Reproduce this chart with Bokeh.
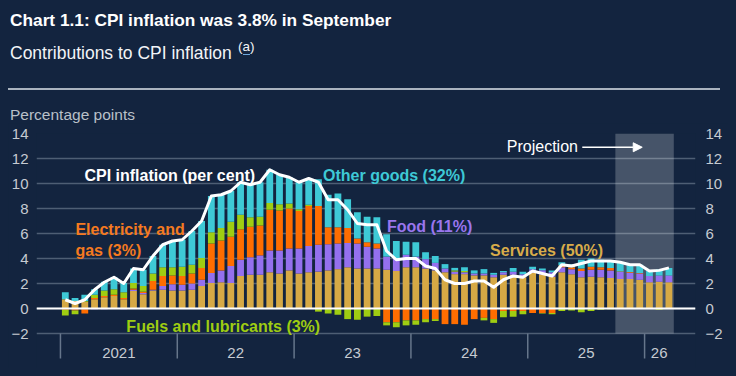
import numpy as np
from bokeh.plotting import figure
from bokeh.models import (Range1d, FixedTicker, LinearAxis, Label, BoxAnnotation,
                          Span, Arrow, NormalHead, Div)
from bokeh.layouts import column
from bokeh.embed import file_html
from bokeh.resources import INLINE
from bokeh.core.properties import value

# ---------------- data (percentage points), Jan 2021 .. Mar 2026 ----------------
months = [f"{m} {y}" for y in range(2021, 2027) for m in
          ["Jan", "Feb", "Mar", "Apr", "May", "Jun", "Jul", "Aug", "Sep", "Oct", "Nov", "Dec"]][:63]

services = [0.75, 0.6, 0.55, 0.75, 0.9, 1.0, 0.75, 1.4, 1.15, 1.45, 1.5, 1.45,
            1.45, 1.5, 1.8, 2.05, 2.1, 2.05, 2.6, 2.7, 2.7, 2.9, 2.8, 3.05,
            2.8, 2.9, 2.95, 3.05, 3.15, 3.3, 3.2, 3.2, 3.2, 3.1, 3.0, 3.3,
            3.3, 3.2, 3.05, 2.9, 2.75, 2.75, 2.65, 2.65, 2.5, 2.7, 2.7, 2.5,
            2.85, 2.72, 2.55, 2.9, 2.75, 2.5, 2.55, 2.5, 2.45, 2.37, 2.37, 2.3,
            2.1, 2.15, 2.1]
food = [0.0, -0.05, -0.05, -0.05, -0.05, 0.0, -0.05, 0.1, 0.1, 0.05, 0.3, 0.5,
        0.45, 0.5, 0.5, 0.8, 0.95, 1.35, 1.3, 1.4, 1.55, 1.75, 1.85, 1.75,
        2.0, 2.1, 2.15, 2.1, 2.05, 1.95, 2.0, 1.75, 1.6, 1.05, 1.0, 1.0,
        0.85, 0.75, 0.6, 0.3, 0.2, 0.15, 0.15, 0.15, 0.2, 0.2, 0.25, 0.25,
        0.3, 0.35, 0.35, 0.4, 0.4, 0.5, 0.55, 0.6, 0.6, 0.55, 0.5, 0.5,
        0.5, 0.5, 0.55]
electricity_gas = [-0.1, -0.1, -0.35, 0.1, 0.1, 0.1, 0.1, 0.1, 0.1, 0.7, 0.8, 0.7,
                   0.7, 0.8, 0.95, 2.35, 2.4, 2.35, 2.45, 2.45, 2.4, 3.25, 3.2, 3.2,
                   3.0, 3.2, 3.1, 1.35, 1.3, 1.2, 0.4, 0.35, 0.4, -1.1, -1.1, -0.95,
                   -0.95, -0.85, -0.85, -1.25, -1.25, -1.3, -0.85, -0.75, -0.85, -0.2, -0.2, -0.2,
                   -0.35, -0.35, -0.35, 0.15, 0.15, 0.2, 0.25, 0.2, 0.2, 0.05, 0.05, 0.05,
                   0.0, 0.0, 0.0]
fuels = [-0.45, -0.3, 0.05, 0.25, 0.45, 0.45, 0.45, 0.45, 0.45, 0.6, 0.7, 0.65,
         0.75, 0.7, 0.8, 0.9, 1.0, 1.2, 1.15, 0.75, 0.7, 0.55, 0.5, 0.4,
         0.15, 0.1, -0.25, -0.4, -0.5, -0.85, -0.9, -0.65, -0.6, -0.25, -0.4, -0.4,
         -0.35, -0.25, -0.15, 0.0, 0.1, 0.1, 0.0, -0.2, -0.3, -0.5, -0.45, -0.25,
         0.0, -0.05, -0.1, -0.2, -0.15, -0.3, -0.2, -0.1, -0.05, 0.0, 0.0, 0.0,
         0.0, -0.1, 0.0]
other_goods = [0.55, 0.25, 0.5, 0.45, 0.7, 0.95, 0.75, 1.15, 1.3, 1.4, 1.8, 2.1,
               2.15, 2.7, 2.95, 2.9, 2.65, 2.45, 2.6, 2.6, 2.75, 2.65, 2.35, 2.1,
               2.15, 2.1, 2.15, 2.6, 2.7, 2.3, 2.1, 2.05, 2.1, 1.8, 1.4, 1.05,
               1.15, 0.55, 0.55, 0.35, 0.2, 0.3, 0.25, 0.35, 0.15, 0.1, 0.3, 0.2,
               0.2, 0.13, 0.15, 0.25, 0.25, 0.7, 0.65, 0.6, 0.6, 0.73, 0.58, 0.65,
               0.4, 0.5, 0.6]
cpi = [0.7, 0.4, 0.7, 1.5, 2.1, 2.5, 2.0, 3.2, 3.1, 4.2, 5.1, 5.4,
       5.5, 6.2, 7.0, 9.0, 9.1, 9.4, 10.1, 9.9, 10.1, 11.1, 10.7, 10.5,
       10.1, 10.4, 10.1, 8.7, 8.7, 7.9, 6.8, 6.7, 6.7, 4.6, 3.9, 4.0,
       4.0, 3.4, 3.2, 2.3, 2.0, 2.0, 2.2, 2.2, 1.7, 2.3, 2.6, 2.5,
       3.0, 2.8, 2.6, 3.5, 3.4, 3.6, 3.8, 3.8, 3.8, 3.7, 3.5, 3.5,
       3.0, 3.05, 3.25]
year_labels = ["2021", "22", "23", "24", "25", "26"]
year_starts = [0, 12, 24, 36, 48, 60]
projection_start = 57   # Oct 2025
y_ticks = [-2, 0, 2, 4, 6, 8, 10, 12, 14]

# ---------------- style ----------------
BG = "#13243f"
FONT = "Liberation Sans"
C_SERV = "#d6a945"
C_FOOD = "#9470ee"
C_ELEC = "#ff6d00"
C_FUEL = "#9fcd12"
C_OTH = "#3ec9d6"
GRID = "#4e5e74"
TICKTXT = "#c6cbd2"

n = len(cpi)
x = np.arange(n)

# ---------------- header (HTML) ----------------
header_html = f"""
<div style="position:relative;width:720px;height:115px;margin:0;padding:0;background:{BG};font-family:'{FONT}';">
  <div style="position:absolute;left:2px;top:4px;font-size:17.3px;line-height:17px;font-weight:bold;color:#ffffff;white-space:nowrap;">Chart 1.1: CPI inflation was 3.8% in September</div>
  <div style="position:absolute;left:2px;top:36.5px;font-size:17.5px;line-height:17px;color:#f2f4f7;white-space:nowrap;">Contributions to CPI inflation</div>
  <div style="position:absolute;left:230px;top:31.5px;font-size:13.5px;line-height:13px;color:#f2f4f7;white-space:nowrap;">(<span style="border-bottom:1px solid #6fa8dc;">a</span>)</div>
  <div style="position:absolute;left:0px;top:80px;width:712px;height:2px;background:#aab3bf;"></div>
  <div style="position:absolute;left:2px;top:98.5px;font-size:15.5px;line-height:15.5px;color:#b9c0c9;white-space:nowrap;">Percentage points</div>
</div>
"""
header = Div(text=header_html, width=720, height=115, margin=0,
             styles={"background-color": BG, "margin": "0", "padding": "0"})

# ---------------- chart ----------------
PX_PER_UNIT = 12.5
frame_h = 235
p = figure(width=720, height=245, x_range=Range1d(-2.96, 64.73),
           y_range=Range1d(14 - frame_h / PX_PER_UNIT, 14),
           toolbar_location=None, output_backend="svg", x_axis_location=None,
           min_border_left=27, min_border_right=33, min_border_top=10, min_border_bottom=0,
           background_fill_color=BG, border_fill_color=BG, outline_line_color=None)
p.margin = 0

p.xgrid.visible = False
p.ygrid.ticker = FixedTicker(ticks=y_ticks)
p.ygrid.grid_line_color = GRID
p.ygrid.grid_line_width = 1.5

p.yaxis[0].ticker = FixedTicker(ticks=y_ticks)
right = LinearAxis(ticker=FixedTicker(ticks=y_ticks))
p.add_layout(right, "right")
for ax, so in [(p.yaxis[0], 8), (right, 10)]:
    ax.axis_line_color = None
    ax.major_tick_line_color = None
    ax.minor_tick_line_color = None
    ax.major_tick_out = 0
    ax.major_tick_in = 0
    ax.minor_tick_out = 0
    ax.minor_tick_in = 0
    ax.major_label_standoff = so
    ax.major_label_text_font = FONT
    ax.major_label_text_font_size = "15px"
    ax.major_label_text_color = TICKTXT

# projection shading
p.add_layout(BoxAnnotation(left=projection_start - 0.5, right=n - 0.5, bottom=-2, top=14,
                           fill_color="white", fill_alpha=0.22, line_color=None,
                           level="underlay"))

# stacked bars
pos_base = np.zeros(n)
neg_base = np.zeros(n)
for vals, col in [(services, C_SERV), (food, C_FOOD), (electricity_gas, C_ELEC),
                  (fuels, C_FUEL), (other_goods, C_OTH)]:
    v = np.array(vals, dtype=float)
    pos = np.where(v > 0, v, 0.0)
    neg = np.where(v < 0, v, 0.0)
    p.vbar(x=x, width=0.7, bottom=pos_base, top=pos_base + pos, fill_color=col, line_color=None)
    p.vbar(x=x, width=0.7, bottom=neg_base + neg, top=neg_base, fill_color=col, line_color=None)
    pos_base = pos_base + pos
    neg_base = neg_base + neg

p.add_layout(Span(location=0, dimension="width", line_color="white", line_width=2))
p.line(x=x, y=cpi, line_color="white", line_width=3, line_join="round")

# year dividers and labels (below the -2 gridline)
bounds = [s - 0.5 for s in year_starts]
p.segment(x0=bounds, y0=[-2] * len(bounds), x1=bounds, y1=[-4.0] * len(bounds),
          line_color="#66768b", line_width=1.5)
ends = year_starts[1:] + [n]
centers = [(s + e - 1) / 2 for s, e in zip(year_starts, ends)]
p.text(x=centers, y=[-3.52] * len(centers), text=year_labels, text_align="center",
       text_baseline="middle", text_font=value(FONT), text_font_size="15px",
       text_color=TICKTXT)

# series labels
def lab(xv, yv, txt, col):
    p.add_layout(Label(x=xv, y=yv, text=txt, text_align="left", text_baseline="alphabetic",
                       text_font=FONT, text_font_style="bold", text_font_size="16px",
                       text_color=col))

lab(1.96, 10.64, "CPI inflation (per cent)", "white")
lab(26.47, 10.68, "Other goods (32%)", C_OTH)
lab(1.04, 6.36, "Electricity and", "#f57a1f")
lab(1.04, 4.68, "gas (3%)", "#f57a1f")
lab(33.04, 6.56, "Food (11%)", "#9a76ee")
lab(43.63, 4.64, "Services (50%)", "#d8ac4a")
lab(6.27, -1.44, "Fuels and lubricants (3%)", C_FUEL)

p.add_layout(Label(x=45.35, y=12.96, text="Projection", text_align="left",
                   text_baseline="middle", text_font=FONT, text_font_size="16px",
                   text_color="white"))
p.add_layout(Arrow(end=NormalHead(size=9, fill_color="white", line_color="white"),
                   x_start=53.1, y_start=12.9, x_end=59.26, y_end=12.9,
                   line_color="white", line_width=1.5))

layout = column(header, p, spacing=0, margin=(8, 8, 8, 8), styles={"background-color": BG})
html = file_html(layout, INLINE)
html = html.replace("<body>", '<body style="background-color:%s;">' % BG, 1)
html = html.replace("<html", '<html style="background-color:%s;"' % BG, 1)
open("out.html", "w").write(html)
